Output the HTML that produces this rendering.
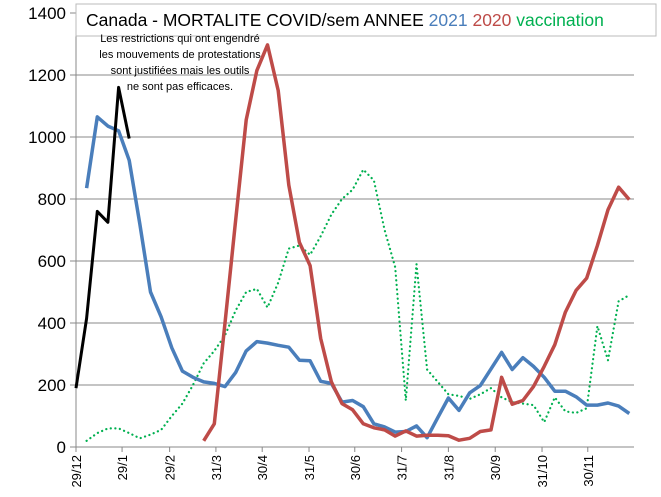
<!DOCTYPE html>
<html><head><meta charset="utf-8"><style>
body{margin:0;background:#fff;font-family:"Liberation Sans",sans-serif}
</style></head><body>
<svg width="661" height="492" xmlns="http://www.w3.org/2000/svg" font-family="Liberation Sans, sans-serif">
<rect x="0" y="0" width="661" height="492" fill="#fff"/>
<g id="grid"></g>
<g id="yt"></g>
<g id="xt"></g>
<g id="series"></g>
<g>
<rect x="76" y="4" width="580" height="32" fill="#fff" stroke="#bbb"/>
<text x="86" y="26" font-size="17.5">Canada - MORTALITE COVID/sem  ANNEE <tspan fill="#4a7ebb">2021</tspan> <tspan fill="#be4b48">2020</tspan> <tspan fill="#00b050">vaccination</tspan></text>
</g>
<g font-size="11" text-anchor="middle">
<text x="180" y="42">Les restrictions qui ont engendré</text>
<text x="180" y="58">les mouvements de protestations</text>
<text x="180" y="74">sont justifiées mais les outils</text>
<text x="180" y="90">ne sont pas efficaces.</text>
</g>
</svg>
<script>
const yTicks=[0,200,400,600,800,1000,1200,1400];
const xTickLabels=["29/12","29/1","29/2","31/3","30/4","31/5","30/6","31/7","31/8","30/9","31/10","30/11"];
const xTickWeeks=[0,4.33,8.8,13.15,17.5,21.9,26.2,30.6,35,39.4,43.8,48.1];
const blue=[null,835,1065,1035,1020,925,720,500,420,320,245,225,210,205,195,240,310,340,335,328,322,280,278,212,205,145,150,130,75,65,48,50,68,30,95,158,118,175,198,252,305,250,288,260,225,180,180,162,135,135,142,132,108];
const red=[null,null,null,null,null,null,null,null,null,null,null,null,20,75,400,730,1055,1215,1297,1150,845,660,585,350,210,140,120,75,62,55,35,52,35,38,38,36,22,28,50,55,225,138,150,195,260,330,435,505,545,650,765,838,798];
const green=[null,20,45,60,60,45,28,40,55,100,140,200,270,310,360,440,500,510,450,530,640,650,620,680,750,800,830,895,860,700,580,150,590,250,210,170,165,155,170,190,160,145,140,135,80,160,115,110,125,390,280,470,490];
const black=[190,415,760,725,1160,995];
const X=i=>76+i*10.64, Y=v=>447-v*0.31;
const NS="http://www.w3.org/2000/svg";
function mk(t,a,p){const e=document.createElementNS(NS,t);for(const k in a)e.setAttribute(k,a[k]);p.appendChild(e);return e;}
const grid=document.getElementById('grid'),yt=document.getElementById('yt'),xt=document.getElementById('xt'),ser=document.getElementById('series');
yTicks.forEach(v=>{
 if(v>0){const l=mk('line',{x1:76,x2:634,y1:Y(v),y2:Y(v),stroke:'#888','stroke-width':1},grid);
 
 }
 mk('line',{x1:70,x2:76,y1:Y(v),y2:Y(v),stroke:'#888'},yt);
 const t=mk('text',{x:66,y:Y(v)+6,'font-size':17,'text-anchor':'end'},yt);t.textContent=v;
 
 
});
mk('line',{x1:76,x2:76,y1:Y(1400),y2:447,stroke:'#888'},yt);
mk('line',{x1:76,x2:634,y1:447,y2:447,stroke:'#888'},xt);
xTickLabels.forEach((s,k)=>{
 const x=X(xTickWeeks[k]);
 mk('line',{x1:x,x2:x,y1:447,y2:452,stroke:'#888'},xt);
 const t=mk('text',{x:0,y:0,'font-size':13,'text-anchor':'end',transform:`translate(${x+5},455) rotate(-90)`},xt);t.textContent=s;
 
 
});
function line(arr,color,w,dash,name){
 let d='';let started=false;
 arr.forEach((v,i)=>{if(v==null)return;d+=(started?'L':'M')+X(i).toFixed(1)+','+Y(v).toFixed(1);started=true;});
 const p=mk('path',{d:d,fill:'none',stroke:color,'stroke-width':w,'stroke-linejoin':'round'},ser);
 if(dash){p.setAttribute('stroke-dasharray',dash);p.setAttribute('stroke-linecap','round');}
 
 
}
line(green,'#00b050',2.2,'0.1 4.5','series-vaccination');
line(blue,'#4a7ebb',3.5,null,'series-2021');
line(red,'#be4b48',3.5,null,'series-2020');
line(black,'#000',3,null,'series-restrictions');
</script>
</body></html>
